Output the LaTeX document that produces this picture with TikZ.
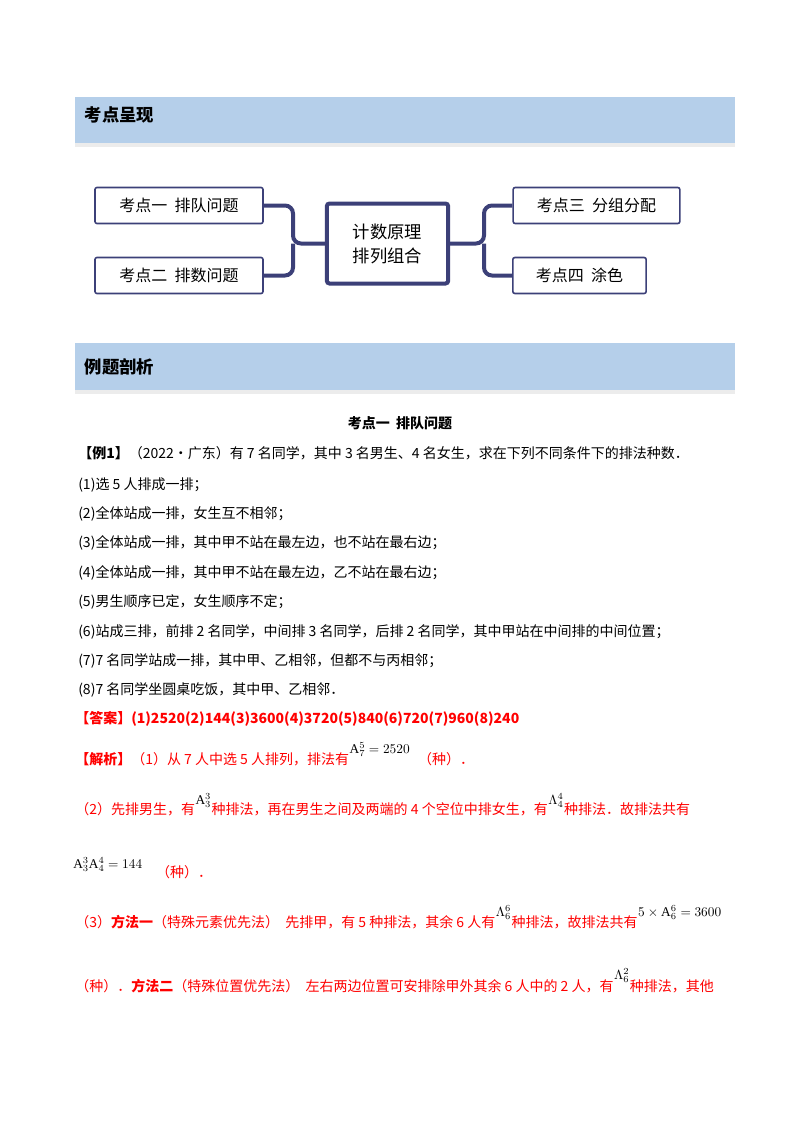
\documentclass[tikz,border=0pt]{standalone}
\usepackage{fontspec}
\setmainfont{Liberation Serif}
\newfontfamily\cjk{Noto Sans CJK SC}
\usetikzlibrary{shadows}
\definecolor{barblue}{HTML}{B5CFEA}
\definecolor{navy}{HTML}{3C4078}
\definecolor{ansred}{HTML}{FF0000}
\begin{document}
\begin{tikzpicture}[x=0.75pt,y=-0.75pt,
  bar/.style={fill=barblue,draw=none,drop shadow={shadow xshift=0pt,shadow yshift=-3pt,fill=gray!30}},
  bartext/.style={anchor=west,font=\cjk\bfseries\fontsize{13}{15}\selectfont},
  kbox/.style={draw=navy,line width=1.2pt,rounded corners=1.5pt,fill=white,font=\cjk\fontsize{12}{14}\selectfont},
  cbox/.style={draw=navy,line width=3pt,rounded corners=2pt,fill=white,align=center,font=\cjk\fontsize{13}{18}\selectfont},
  conn/.style={draw=navy,line width=3pt,rounded corners=6pt},
  tx/.style={anchor=base west,inner sep=0pt,font=\cjk\fontsize{10.5}{12}\selectfont},
  rtx/.style={tx,text=ansred},
  mth/.style={anchor=base west,inner sep=0pt,font=\fontsize{10}{12}\selectfont}]
\useasboundingbox (0,0) rectangle (800,1132);
% bars
\path[bar] (75,97) rectangle (735,143);
\node[bartext] (h1) at (80,115) {考点呈现};
\path[bar] (75,343) rectangle (735,390);
\node[bartext] (h2) at (80,367) {例题剖析};
% mindmap
\node[cbox,minimum width=91pt,minimum height=60pt] (c) at (387.5,243.5) {计数原理\\排列组合};
\node[kbox,minimum width=126pt,minimum height=27pt] (k1) at (179,205.5) {考点一\ \ 排队问题};
\node[kbox,minimum width=126pt,minimum height=27pt] (k2) at (179,275.5) {考点二\ \ 排数问题};
\node[kbox,minimum width=125pt,minimum height=27pt] (k3) at (596.5,205.5) {考点三\ \ 分组分配};
\node[kbox,minimum width=100pt,minimum height=27pt] (k4) at (579.5,275.5) {考点四\ \ 涂色};
\coordinate (jl) at (293,243.5);
\coordinate (jr) at (484,243.5);
\draw[conn] (k1.east) -| (jl) -- (c.west);
\draw[conn] (k2.east) -| (jl);
\draw[conn] (c.east) -- (jr) |- (k3.west);
\draw[conn] (jr) |- (k4.west);
% title
\node[font=\cjk\bfseries\fontsize{10.5}{12}\selectfont] (t) at (400,423) {考点一\ \ 排队问题};
% problem
\node[tx] (e0) at (78,458) {{\bfseries【例1】}（2022·广东）有 7 名同学，其中 3 名男生、4 名女生，求在下列不同条件下的排法种数．};
\node[tx] (e1) at (78,489) {(1)选 5 人排成一排；};
\node[tx] (e2) at (78,518) {(2)全体站成一排，女生互不相邻；};
\node[tx] (e3) at (78,547) {(3)全体站成一排，其中甲不站在最左边，也不站在最右边；};
\node[tx] (e4) at (78,577) {(4)全体站成一排，其中甲不站在最左边，乙不站在最右边；};
\node[tx] (e5) at (78,606) {(5)男生顺序已定，女生顺序不定；};
\node[tx] (e6) at (78,636) {(6)站成三排，前排 2 名同学，中间排 3 名同学，后排 2 名同学，其中甲站在中间排的中间位置；};
\node[tx] (e7) at (78,665) {(7)7 名同学站成一排，其中甲、乙相邻，但都不与丙相邻；};
\node[tx] (e8) at (78,694) {(8)7 名同学坐圆桌吃饭，其中甲、乙相邻．};
\node[rtx] (ans) at (75,723) {{\bfseries【答案】(1)2520(2)144(3)3600(4)3720(5)840(6)720(7)960(8)240}};
% solution
\node[rtx] (s1) at (75,764) {{\bfseries【解析】}（1）从 7 人中选 5 人排列，排法有};
\node[mth] (m1) at ([yshift=8pt]s1.base east) {$\mathrm{A}_7^5=2520$};
\node[rtx] (s1b) at ([xshift=6pt,yshift=-8pt]m1.base east) {（种）．};
\node[rtx] (s2) at (75,814) {（2）先排男生，有};
\node[mth] (m2) at ([yshift=7pt]s2.base east) {$\mathrm{A}_3^3$};
\node[rtx] (s2b) at ([yshift=-7pt]m2.base east) {种排法，再在男生之间及两端的 4 个空位中排女生，有};
\node[mth] (m3) at ([yshift=7pt]s2b.base east) {$\Lambda_4^4$};
\node[rtx] (s2c) at ([yshift=-7pt]m3.base east) {种排法．故排法共有};
\node[mth] (m4) at (73,868) {$\mathrm{A}_3^3\mathrm{A}_4^4=144$};
\node[rtx] (s2d) at ([xshift=10pt,yshift=-7pt]m4.base east) {（种）．};
\node[rtx] (s3) at (75,927) {（3）{\bfseries 方法一}（特殊元素优先法）\ \ 先排甲，有 5 种排法，其余 6 人有};
\node[mth] (m5) at ([yshift=8pt]s3.base east) {$\Lambda_6^6$};
\node[rtx] (s3b) at ([yshift=-8pt]m5.base east) {种排法，故排法共有};
\node[mth] (m6) at ([yshift=8pt]s3b.base east) {$5\times\mathrm{A}_6^6=3600$};
\node[rtx] (s4) at (75,991) {（种）．{\bfseries 方法二}（特殊位置优先法）\ \ 左右两边位置可安排除甲外其余 6 人中的 2 人，有};
\node[mth] (m7) at ([yshift=9pt]s4.base east) {$\Lambda_6^2$};
\node[rtx] (s4b) at ([yshift=-9pt]m7.base east) {种排法，其他};
\end{tikzpicture}
\end{document}
